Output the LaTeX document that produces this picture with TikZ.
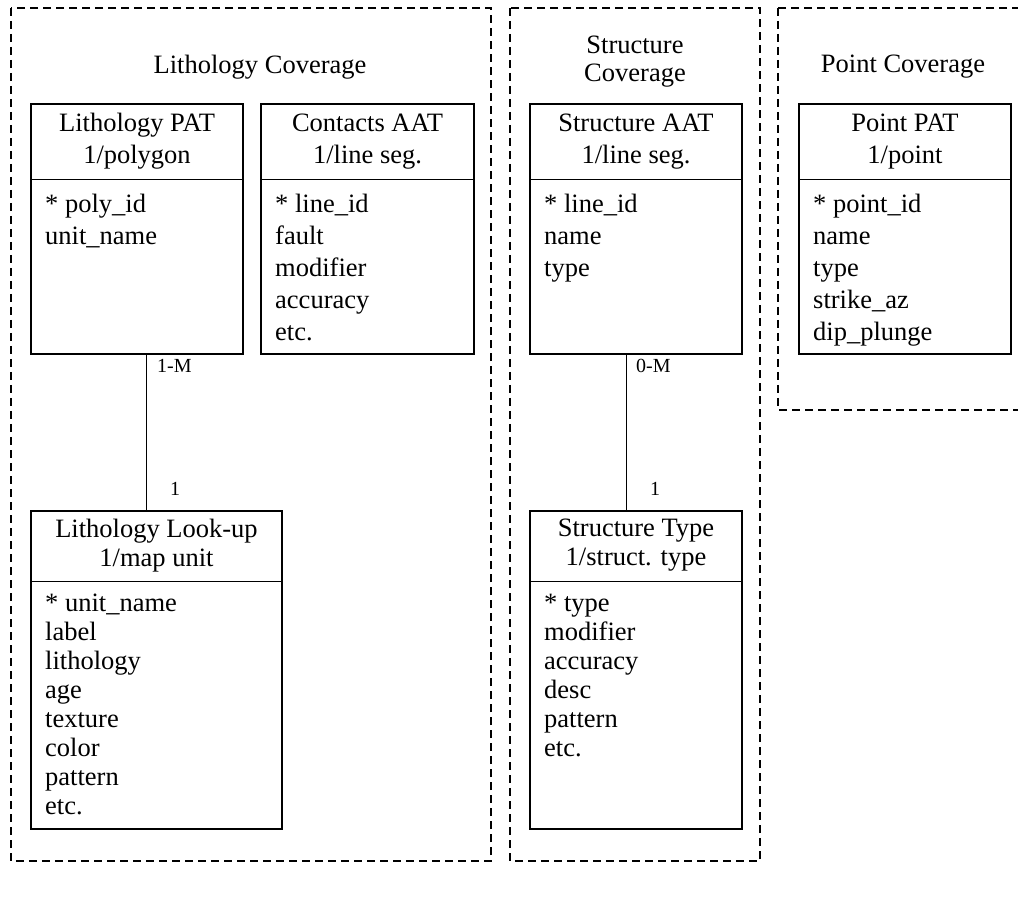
\documentclass[tikz,border=0pt]{standalone}
\usepackage{fontspec}
\setmainfont{Liberation Serif}
\usepackage{tikz}

\begin{document}
\begin{tikzpicture}[x=1pt,y=-1pt]
\tikzset{frame/.style = {draw,line width=1.8pt,dash pattern=on 8pt off 5pt},
    tbl/.style = {shape=rectangle,draw,line width=2pt,anchor=north west,inner sep=0pt},
    head/.style = {align=center,inner sep=0pt,font=\fontsize{26.5}{32}\selectfont},
    attr/.style = {align=left,anchor=north west,inner sep=0pt,font=\fontsize{26.5}{32}\selectfont},
    lower/.style = {font=\fontsize{26.5}{29}\selectfont},
    sep/.style = {line width=1pt},
    link/.style = {line width=1.2pt},
    card/.style = {anchor=west,inner sep=0pt,font=\fontsize{20}{24}\selectfont},
    title/.style = {align=center,inner sep=0pt,font=\fontsize{26.5}{28.5}\selectfont}}
\useasboundingbox (0,0) rectangle (1018,909);
% coverages
\draw[frame] (11,8) rectangle (491,861);
\draw[frame] (510,8) rectangle (760,861);
\draw[frame] (778,8) rectangle (1030,410);
\node[title] (lithcov) at (260,67) {Lithology Coverage};
\node[title] (structcov) at (635,61.5) {Structure\\Coverage};
\node[title] (pointcov) at (903,67) {Point Coverage};
% tables
\node[tbl,minimum width=212pt,minimum height=250pt] (litpat) at (30,103) {};
\node[tbl,minimum width=213pt,minimum height=250pt] (contaat) at (260,103) {};
\node[tbl,minimum width=212pt,minimum height=250pt] (structaat) at (529,103) {};
\node[tbl,minimum width=212pt,minimum height=250pt] (pointpat) at (798,103) {};
\node[tbl,minimum width=251pt,minimum height=318pt] (litlook) at (30,510) {};
\node[tbl,minimum width=212pt,minimum height=318pt] (structtype) at (529,510) {};
% header lines
\foreach \t in {litpat,contaat,structaat,pointpat} {
    \draw[sep] (\t.west |- 0,180) -- (\t.east |- 0,180);
}
\foreach \t in {litlook,structtype} {
    \draw[sep] (\t.west |- 0,581) -- (\t.east |- 0,581);
}
% headers
\node[head] (litpathead) at (litpat.north |- 0,141.5) {Lithology PAT\\1/polygon};
\node[head] (contaathead) at (contaat.north |- 0,141.5) {Contacts AAT\\1/line seg.};
\node[head] (structaathead) at (structaat.north |- 0,141.5) {Structure AAT\\1/line seg.};
\node[head] (pointpathead) at (pointpat.north |- 0,141.5) {Point PAT\\1/point};
\node[head,lower] (litlookhead) at (litlook.north |- 0,545.5) {Lithology Look-up\\1/map unit};
\node[head,lower] (structtypehead) at (structtype.north |- 0,545.5) {Structure Type\\1/struct. type};
% attributes
\node[attr] (litpatattr) at ([xshift=15pt]litpat.west |- 0,194) {* poly\_id\\unit\_name};
\node[attr] (contaatattr) at ([xshift=15pt]contaat.west |- 0,194) {* line\_id\\fault\\modifier\\accuracy\\etc.};
\node[attr] (structaatattr) at ([xshift=15pt]structaat.west |- 0,194) {* line\_id\\name\\type};
\node[attr] (pointpatattr) at ([xshift=15pt]pointpat.west |- 0,194) {* point\_id\\name\\type\\strike\_az\\dip\_plunge};
\node[attr,lower] (litlookattr) at ([xshift=15pt]litlook.west |- 0,594) {* unit\_name\\label\\lithology\\age\\texture\\color\\pattern\\etc.};
\node[attr,lower] (structtypeattr) at ([xshift=15pt]structtype.west |- 0,594) {* type\\modifier\\accuracy\\desc\\pattern\\etc.};
% relations
\draw[link] ([xshift=9.3pt]litpat.south) -- ([xshift=9.3pt]litpat.south |- litlook.north);
\draw[link] ([xshift=-9.7pt]structaat.south) -- ([xshift=-9.7pt]structaat.south |- structtype.north);
\node[card] (litmany) at (157,366) {1-M};
\node[card] (litone) at (170,489) {1};
\node[card] (structmany) at (636,366) {0-M};
\node[card] (structone) at (650,489) {1};
\end{tikzpicture}
\end{document}
